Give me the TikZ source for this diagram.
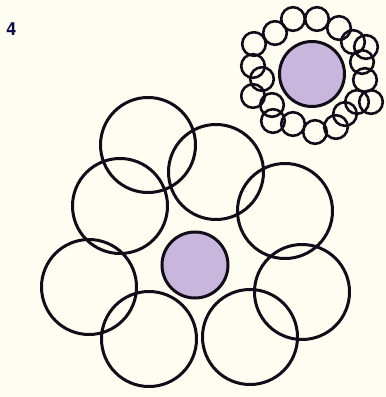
\documentclass[tikz,border=0pt]{standalone}
\usepackage{fontspec}
\setsansfont{TeX Gyre Heros}
\usepackage{tikz}
\definecolor{paperx}{HTML}{FDFDF2}
\definecolor{lilac}{HTML}{C9B6DD}
\definecolor{inkx}{HTML}{120C18}
\tikzset{
  ring/.style={draw=inkx,line width=3pt},
  bead/.style={draw=inkx,line width=2.6pt},
  core/.style={draw=inkx,line width=3pt,fill=lilac}
}
\begin{document}
\begin{tikzpicture}[x=1pt,y=-1pt]
\fill[paperx] (0,0) rectangle (386,397);
\useasboundingbox (0,0) rectangle (386,397);
\node[font=\sffamily\bfseries,scale=1.8,text=inkx!80!blue,inner sep=0pt] (num) at (11.5,29) {4};
% large ring
\foreach \cx/\cy in {148/145,216/172,120/206,285/211,89/287,302/292,149/339,250/337}
  \draw[ring] (\cx,\cy) circle (47.5);
\draw[core] (195,265) circle (33);
% small ring
\foreach \cx/\cy in {293/19,317/19,339/28,353/42,366/47,362/62,365/80,371/102,357/102,345/114,336/127,315/132,293/124,273/121,272/105,253/96,262/79,253/66,254/44,275/33}
  \draw[bead] (\cx,\cy) circle (11.8);
\draw[core] (312,74) circle (32.5);
\end{tikzpicture}
\end{document}
